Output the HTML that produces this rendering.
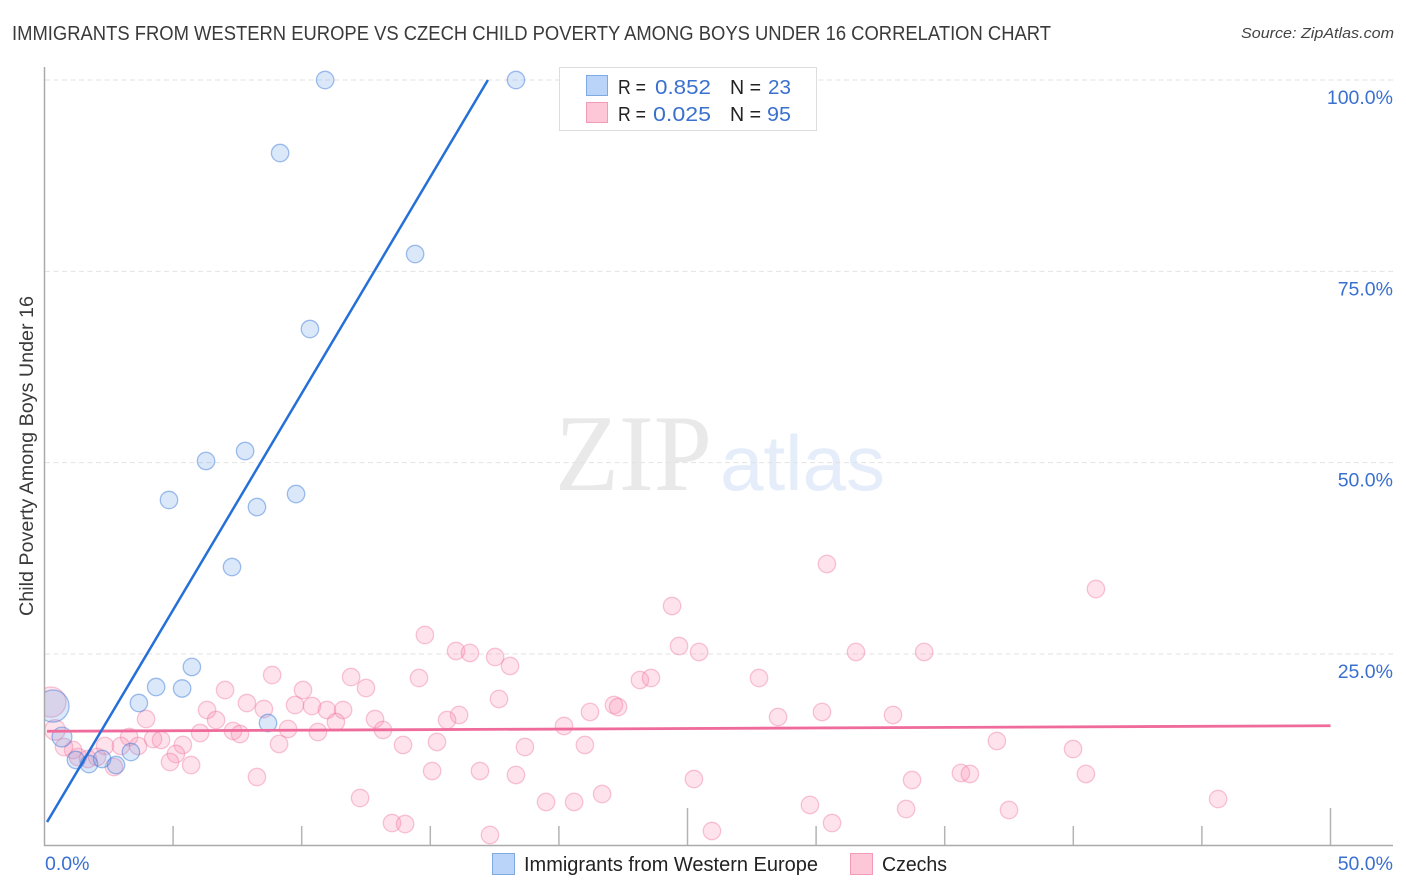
<!DOCTYPE html>
<html lang="en">
<head>
<meta charset="utf-8">
<title>Immigrants from Western Europe vs Czech Child Poverty Correlation Chart</title>
<style>
  html, body { margin: 0; padding: 0; background: #fff; }
  svg { display: block; font-family: "Liberation Sans", sans-serif; }
</style>
</head>
<body>
<svg id="chart" xmlns="http://www.w3.org/2000/svg" width="1406" height="892" viewBox="0 0 1406 892">
  <defs>
    <clipPath id="plot-clip"><rect x="45" y="60" width="1350" height="785"></rect></clipPath>
  </defs>
  <rect x="0" y="0" width="1406" height="892" fill="#fff"></rect>

  <g>
    <text x="555" y="490" font-family="'Liberation Serif', serif" font-size="109" fill="#e9e9e9" textLength="157" lengthAdjust="spacingAndGlyphs">ZIP</text>
    <text x="720" y="490" font-size="78" fill="#e5edfb" textLength="165" lengthAdjust="spacingAndGlyphs">atlas</text>
  </g>

  <g id="grid"></g>
  <g id="axes"></g>
  <g id="points" clip-path="url(#plot-clip)"></g>
  <g id="trends"></g>
  <g id="labels"></g>

  <text x="12" y="40" font-size="20" fill="#3a3a3a" textLength="1039" lengthAdjust="spacingAndGlyphs">IMMIGRANTS FROM WESTERN EUROPE VS CZECH CHILD POVERTY AMONG BOYS UNDER 16 CORRELATION CHART</text>
  <text x="1241" y="38" font-size="15" font-style="italic" fill="#444" textLength="153" lengthAdjust="spacingAndGlyphs">Source: ZipAtlas.com</text>
  <text transform="translate(33,616) rotate(-90)" font-size="19" fill="#3a3a3a" textLength="320" lengthAdjust="spacingAndGlyphs">Child Poverty Among Boys Under 16</text>

  <g>
    <rect x="559.5" y="67.5" width="257" height="63" fill="#fff" fill-opacity="0.92" stroke="#ddd" stroke-width="1"></rect>
    <rect x="586.5" y="75.5" width="21" height="20" fill="#b9d4f8" stroke="#7ea9e2" stroke-width="1"></rect>
    <text x="618" y="94" font-size="20" fill="#222" textLength="28" lengthAdjust="spacingAndGlyphs">R =</text>
    <text x="655" y="94" font-size="20" fill="#3a70cf" textLength="56" lengthAdjust="spacingAndGlyphs">0.852</text>
    <text x="730" y="94" font-size="20" fill="#222" textLength="31" lengthAdjust="spacingAndGlyphs">N =</text>
    <text x="768" y="94" font-size="20" fill="#3a70cf" textLength="23" lengthAdjust="spacingAndGlyphs">23</text>
    <rect x="586.5" y="102.5" width="21" height="20" fill="#fdc7d8" stroke="#f29ab6" stroke-width="1"></rect>
    <text x="618" y="121" font-size="20" fill="#222" textLength="28" lengthAdjust="spacingAndGlyphs">R =</text>
    <text x="653" y="121" font-size="20" fill="#3a70cf" textLength="58" lengthAdjust="spacingAndGlyphs">0.025</text>
    <text x="730" y="121" font-size="20" fill="#222" textLength="31" lengthAdjust="spacingAndGlyphs">N =</text>
    <text x="767" y="121" font-size="20" fill="#3a70cf" textLength="24" lengthAdjust="spacingAndGlyphs">95</text>
  </g>

  <g>
    <rect x="492.5" y="853.5" width="22" height="21" fill="#b9d4f8" stroke="#7ea9e2" stroke-width="1"></rect>
    <text x="524" y="871" font-size="20" fill="#222" textLength="294" lengthAdjust="spacingAndGlyphs">Immigrants from Western Europe</text>
    <rect x="850.5" y="853.5" width="22" height="21" fill="#fdc7d8" stroke="#f29ab6" stroke-width="1"></rect>
    <text x="882" y="871" font-size="20" fill="#222" textLength="65" lengthAdjust="spacingAndGlyphs">Czechs</text>
  </g>
</svg>

<script>
// Data (percent values)
const immigrantsX = [10.91,18.33,9.16,14.41,10.32,7.80,6.28,9.78,4.84,8.26,7.29,5.73,4.34,5.35,3.67,8.69,0.68,3.36,2.78,2.24,1.73,1.22,0.33];
const immigrantsY = [100.0,100.0,90.46,77.26,67.46,51.52,50.22,45.90,45.12,44.20,36.36,23.30,20.68,20.49,18.59,15.98,14.15,12.19,10.49,11.28,10.62,11.15,18.20];
const immigrantsWeight = [1,1,1,1,1,1,1,1,1,1,1,1,1,1,1,1,1.3,1,1,1,1,1,3.4];

const czechsX = [8.85,10.05,7.02,7.87,6.32,8.53,9.74,10.40,10.98,11.61,6.67,3.95,11.33,9.47,6.05,7.33,7.60,10.63,9.12,3.29,4.22,4.53,3.64,2.97,2.35,5.38,5.11,4.88,5.70,8.26,2.70,2.04,1.69,1.30,1.11,0.76,0.41,30.42,40.88,24.40,14.79,24.67,16.00,16.54,25.45,31.55,34.20,17.52,18.10,11.92,14.56,23.15,23.58,27.78,12.50,17.67,22.14,22.30,21.21,28.52,30.23,32.99,12.85,16.12,15.65,20.20,13.16,37.03,13.94,15.26,18.68,21.01,39.99,15.07,16.93,18.33,25.25,33.73,40.49,35.63,35.98,12.27,19.50,20.59,21.68,29.76,33.50,37.50,45.63,13.51,14.02,30.62,17.32,25.95,0.25];
const czechsY = [22.25,20.29,20.29,18.59,17.68,17.81,18.33,18.20,17.68,17.68,16.37,16.50,16.11,15.20,14.67,14.94,14.54,14.80,13.24,14.15,13.89,13.76,12.98,12.98,12.98,13.11,11.93,10.88,10.49,8.92,10.23,11.54,11.28,11.54,12.45,12.84,15.07,36.76,33.49,31.27,27.48,26.04,25.39,25.13,25.26,25.26,25.26,24.60,23.43,21.99,21.86,21.60,21.86,21.86,20.55,19.12,18.33,18.07,17.42,16.76,17.42,17.03,16.50,17.03,16.37,15.59,15.07,13.63,13.11,13.50,12.84,13.11,12.58,9.71,9.71,9.19,8.66,8.53,9.32,9.45,9.32,6.18,5.66,5.66,6.70,5.27,4.74,4.61,6.05,2.91,2.78,2.91,1.35,1.87,18.72];
const czechsWeight = [1,1,1,1,1,1,1,1,1,1,1,1,1,1,1,1,1,1,1,1,1,1,1,1,1,1,1,1,1,1,1,1,1,1,1,1,1.4,1,1,1,1,1,1,1,1,1,1,1,1,1,1,1,1,1,1,1,1,1,1,1,1,1,1,1,1,1,1,1,1,1,1,1,1,1,1,1,1,1,1,1,1,1,1,1,1,1,1,1,1,1,1,1,1,1,3];

const immigrantsTrendX = [0.1,17.24];
const immigrantsTrendY = [3.04,100];
const czechsTrendX = [0.1,50];
const czechsTrendY = [14.9,15.62];

const gridValues = [25,50,75,100];
const yTickLabels = ["25.0%","50.0%","75.0%","100.0%"];
const xTickValues = [5,10,15,20,25,30,35,40,45,50];
const xTallTicks = [25,50];
const xTickLabels = ["0.0%","50.0%"];
const xLabelValues = [0,50];

// Axis functions
function xScale(v) { return 44.5 + v * 25.72; }
function yScale(v) { return 845.3 - v * 7.653; }
function radius(w) { return 8.7 * Math.sqrt(w); }

const NS = 'http://www.w3.org/2000/svg';
function make(tag, parentId, attrs) {
  const el = document.createElementNS(NS, tag);
  for (const k in attrs) el.setAttribute(k, attrs[k]);
  document.getElementById(parentId).appendChild(el);
  return el;
}

// Gridlines and y tick labels
gridValues.forEach(function (v, i) {
  const line = make('line', 'grid', { x1: 45, x2: 1393, y1: yScale(v), y2: yScale(v), stroke: '#e2e2e2', 'stroke-width': 1, 'stroke-dasharray': '5 3.5' });
  
  
  const label = make('text', 'labels', { x: 1393, y: yScale(v) + 24, 'text-anchor': 'end', 'font-size': 19.5, fill: '#3a70cf' });
  label.textContent = yTickLabels[i];
  
  
});

// Axes
const yAxis = make('line', 'axes', { x1: 44.5, x2: 44.5, y1: 67, y2: 846, stroke: '#aaa', 'stroke-width': 1.5 });


const xAxis = make('line', 'axes', { x1: 44, x2: 1393, y1: 845.5, y2: 845.5, stroke: '#aaa', 'stroke-width': 1.5 });


xTickValues.forEach(function (v) {
  const top = xTallTicks.indexOf(v) >= 0 ? 808 : 826;
  const tick = make('line', 'axes', { x1: xScale(v), x2: xScale(v), y1: top, y2: 845, stroke: '#b4b4b4', 'stroke-width': 1.5 });
  
  
});
xLabelValues.forEach(function (v, i) {
  const label = make('text', 'labels', v === 0
    ? { x: 45, y: 870, 'font-size': 19.5, fill: '#3a70cf' }
    : { x: 1393, y: 870, 'text-anchor': 'end', 'font-size': 19.5, fill: '#3a70cf' });
  label.textContent = xTickLabels[i];
  
  
});

// Scatter points
czechsX.forEach(function (x, i) {
  const c = make('circle', 'points', { cx: xScale(x), cy: yScale(czechsY[i]), r: radius(czechsWeight[i]), fill: 'rgba(250,140,175,0.24)', stroke: 'rgba(238,120,160,0.42)', 'stroke-width': 1.3 });
  
  
});
immigrantsX.forEach(function (x, i) {
  const c = make('circle', 'points', { cx: xScale(x), cy: yScale(immigrantsY[i]), r: radius(immigrantsWeight[i]), fill: 'rgba(100,160,235,0.24)', stroke: 'rgba(50,115,215,0.45)', 'stroke-width': 1.3 });
  
  
});

// Trend lines
const czechsTrend = make('line', 'trends', { x1: xScale(czechsTrendX[0]), y1: yScale(czechsTrendY[0]), x2: xScale(czechsTrendX[1]), y2: yScale(czechsTrendY[1]), stroke: '#ef6b9b', 'stroke-width': 2.8 });


const immigrantsTrend = make('line', 'trends', { x1: xScale(immigrantsTrendX[0]), y1: yScale(immigrantsTrendY[0]), x2: xScale(immigrantsTrendX[1]), y2: yScale(immigrantsTrendY[1]), stroke: '#2570d8', 'stroke-width': 2.5 });


</script>
</body>
</html>
